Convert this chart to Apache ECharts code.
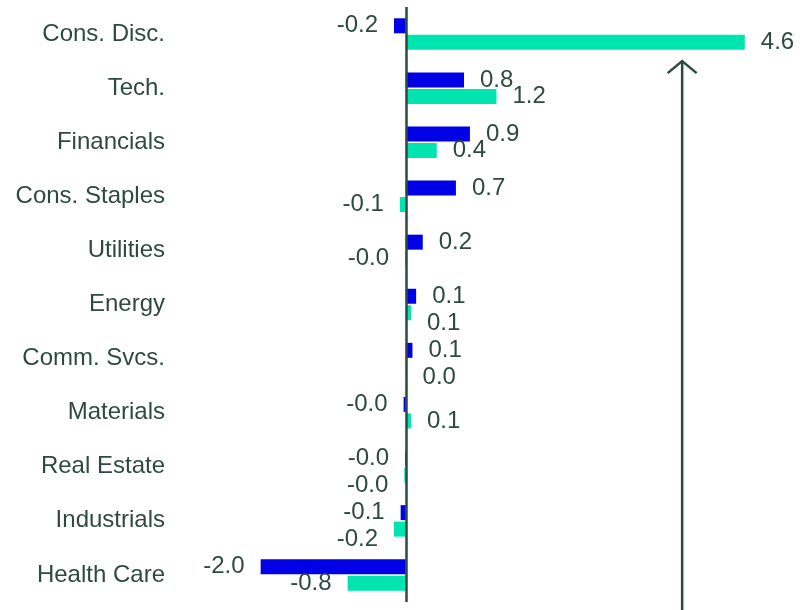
<!DOCTYPE html>
<html>
<head>
<meta charset="utf-8">
<script src="https://cdn.jsdelivr.net/npm/echarts@6/dist/echarts.min.js"></script>
<style>
  html, body { margin: 0; padding: 0; background: #ffffff; }
  #chart { width: 809px; height: 610px; }
</style>
</head>
<body>
<div id="chart"></div>
<script>
// Sector contributions, two series per sector
const sectors = ['Cons. Disc.', 'Tech.', 'Financials', 'Cons. Staples', 'Utilities', 'Energy',
                 'Comm. Svcs.', 'Materials', 'Real Estate', 'Industrials', 'Health Care'];
const blueValues = [-0.16, 0.79, 0.87, 0.68, 0.23, 0.14, 0.09, -0.03, -0.01, -0.07, -1.97];
const tealValues = [4.60, 1.23, 0.42, -0.08, -0.01, 0.07, 0.01, 0.07, -0.02, -0.16, -0.79];
// Position of the upward annotation arrow on the value axis
const arrowValue = 3.75;

const INK = '#2e4a3f';
const FONT = 'Liberation Sans, Arial, sans-serif';
const BAR_W = 15;
const BAR_STEP = BAR_W * 1.1;   // centre-to-centre distance of the paired bars
const LABEL_STEP = 27;          // vertical spacing given to clashing value labels
const CLASH_MIN = 6;            // horizontal overlap (px) that counts as a clash

const chart = echarts.init(document.getElementById('chart'), null, { renderer: 'canvas' });

function toItems(values) {
  return values.map(v => ({ value: v, label: { position: v < 0 ? 'left' : 'right' } }));
}

const labelStyle = {
  show: true,
  distance: 16,
  color: INK,
  fontSize: 24,
  fontFamily: FONT,
  formatter: p => Number(p.value).toFixed(1)
};

// When both values of a sector point the same way their labels sit side by side;
// if they would collide, the second label steps down below the first one.
function secondLabelLayout(p) {
  const i = p.dataIndex;
  const a = blueValues[i], b = tealValues[i];
  if ((a < 0) !== (b < 0)) return {};
  const r = p.labelRect;
  const shift = chart.convertToPixel({ xAxisIndex: 0 }, a) - chart.convertToPixel({ xAxisIndex: 0 }, b);
  const ox = r.x + shift;
  const collide = ox < r.x + r.width - CLASH_MIN && r.x < ox + r.width - CLASH_MIN;
  if (!collide) return {};
  const ownCentre = r.y + r.height / 2;
  const firstCentre = ownCentre - BAR_STEP;
  return {
    y: firstCentre + LABEL_STEP,
    align: b < 0 ? 'right' : 'left',
    verticalAlign: 'middle'
  };
}

chart.setOption({
  animation: false,
  backgroundColor: '#ffffff',
  grid: { left: 170, right: 20, top: 7, bottom: 8 },
  xAxis: {
    type: 'value',
    min: -3.2,
    max: 5.2,
    show: false
  },
  yAxis: {
    type: 'category',
    data: sectors,
    inverse: true,
    axisLine: { show: false },
    axisTick: { show: false },
    splitLine: { show: false },
    axisLabel: { margin: 5, color: INK, fontSize: 24, fontFamily: FONT }
  },
  series: [
    {
      type: 'bar',
      name: 'A',
      data: toItems(blueValues),
      barWidth: BAR_W,
      barGap: '10%',
      itemStyle: { color: '#0000e6' },
      label: labelStyle,
      markLine: {
        silent: true,
        symbol: 'none',
        label: { show: false },
        lineStyle: { color: INK, width: 2.5, type: 'solid' },
        data: [{ xAxis: 0 }]
      }
    },
    {
      type: 'bar',
      name: 'B',
      data: toItems(tealValues),
      barWidth: BAR_W,
      barGap: '10%',
      itemStyle: { color: '#00e5b0' },
      label: labelStyle,
      labelLayout: secondLabelLayout
    }
  ]
});

// Upward arrow annotation drawn from the axis scales
const ax = chart.convertToPixel({ xAxisIndex: 0 }, arrowValue);
const yA = chart.convertToPixel({ yAxisIndex: 0 }, sectors[0]);
const yB = chart.convertToPixel({ yAxisIndex: 0 }, sectors[1]);
const tipY = (yA + yB) / 2;
const bottomY = chart.getHeight();

chart.setOption({
  graphic: [
    {
      type: 'polyline',
      silent: true,
      shape: { points: [[ax, bottomY], [ax, tipY]] },
      style: { stroke: INK, lineWidth: 2.5, fill: null }
    },
    {
      type: 'polyline',
      silent: true,
      shape: { points: [[ax - 14.5, tipY + 12], [ax, tipY], [ax + 14.5, tipY + 12]] },
      style: { stroke: INK, lineWidth: 2.5, fill: null }
    }
  ]
});
</script>
</body>
</html>
